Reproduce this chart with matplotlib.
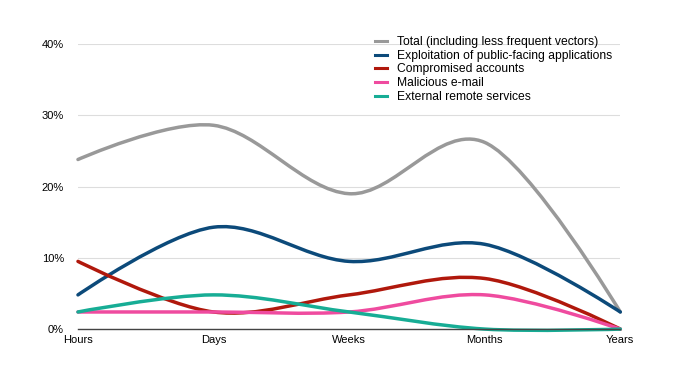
import matplotlib.pyplot as plt
from matplotlib.path import Path
from matplotlib.patches import PathPatch
from matplotlib.lines import Line2D

plt.rcParams['font.family'] = ['Liberation Sans', 'DejaVu Sans']

periods = ["Hours", "Days", "Weeks", "Months", "Years"]
total = [23.8, 28.6, 19.0, 26.2, 2.4]
exploitation = [4.8, 14.3, 9.5, 11.9, 2.4]
compromised = [9.5, 2.4, 4.8, 7.1, 0.0]
malicious = [2.4, 2.4, 2.4, 4.8, 0.0]
external = [2.4, 4.8, 2.4, 0.0, 0.0]

series = [
    ("Total (including less frequent vectors)", total, "#999999"),
    ("Exploitation of public-facing applications", exploitation, "#0c4a7a"),
    ("Compromised accounts", compromised, "#b0180c"),
    ("Malicious e-mail", malicious, "#ef4b9f"),
    ("External remote services", external, "#17ad95"),
]


def smooth_path(xs, ys):
    # cubic bezier through the points; end control points sit on the end points
    verts = [(xs[0], ys[0])]
    codes = [Path.MOVETO]
    n = len(xs)
    for i in range(n - 1):
        if i > 0:
            c1 = (xs[i] + 1 / 3, ys[i] + (ys[i + 1] - ys[i - 1]) / 6)
        else:
            c1 = (xs[i], ys[i])
        if i + 2 < n:
            c2 = (xs[i + 1] - 1 / 3, ys[i + 1] - (ys[i + 2] - ys[i]) / 6)
        else:
            c2 = (xs[i + 1], ys[i + 1])
        verts += [c1, c2, (xs[i + 1], ys[i + 1])]
        codes += [Path.CURVE4] * 3
    return Path(verts, codes)


fig = plt.figure(figsize=(6.9, 3.8), dpi=100)
ax = fig.add_axes([0.113, 0.134, 0.786, 0.750])

x = list(range(len(periods)))
handles = []
for name, vals, color in series:
    patch = PathPatch(smooth_path(x, vals), facecolor='none', edgecolor=color,
                      lw=2.5, clip_on=False, capstyle='round')
    ax.add_patch(patch)
    handles.append(Line2D([], [], color=color, lw=2.2, label=name))

ax.set_xlim(0, len(periods) - 1)
ax.set_ylim(0, 40)
ax.set_xticks(x)
ax.set_xticklabels(periods, fontsize=8)
ax.set_yticks([0, 10, 20, 30, 40])
ax.set_yticklabels(["0%", "10%", "20%", "30%", "40%"], fontsize=8)
ax.tick_params(length=0)
ax.tick_params(axis='x', pad=4)
ax.tick_params(axis='y', pad=10)
ax.grid(axis='y', color='#dddddd', lw=0.8)
ax.set_axisbelow(True)
for s in ['top', 'right', 'left']:
    ax.spines[s].set_visible(False)
ax.spines['bottom'].set_color('#444444')
ax.spines['bottom'].set_linewidth(1.0)

fig.legend(handles=handles, loc='upper left', bbox_to_anchor=(0.535, 0.921),
           frameon=False, fontsize=8.7, handlelength=1.0, handletextpad=0.8,
           labelspacing=0.14, borderpad=0)

fig.savefig("out.png", dpi=100)
